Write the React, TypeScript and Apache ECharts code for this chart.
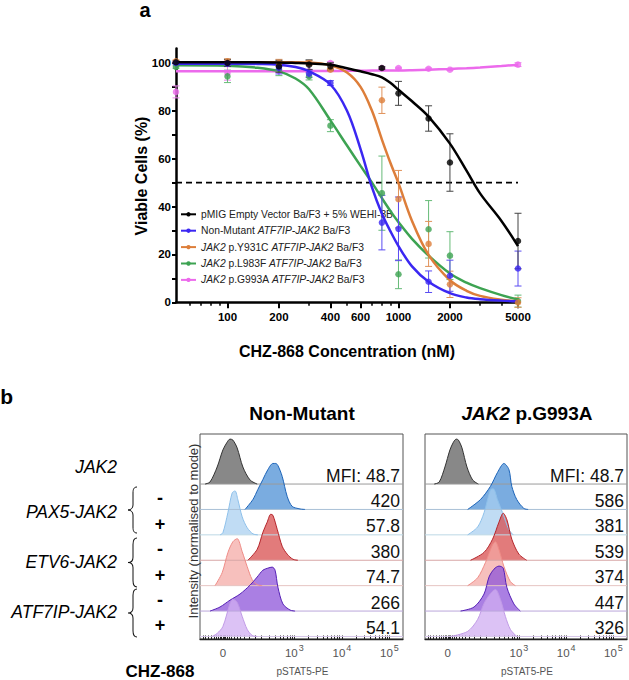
import React, { useEffect, useRef } from "react";
import * as echarts from "echarts";

const FONT = "'Liberation Sans', Arial, Helvetica, sans-serif";
const FLOW_FONT = "'Liberation Sans', Arial, sans-serif";

// ---------------- Panel a: dose response ----------------
const CONC_NM = [50, 100, 200, 300, 400, 800, 1000, 1500, 2000, 5000];
const EMPTY_MEAN = [100.3, 100, 98.6, 99.3, 98.6, 97.9, 87.3, 76.8, 58.4, 25.6];
const EMPTY_ERR = [0.5, 1.5, 2.5, 2, 1.5, 0.5, 5, 5.3, 12, 11.6];
const NONMUT_MEAN = [100, 99.7, 97.9, 95.5, 91.6, 33.3, 30.7, 8.6, 11.1, 14.1];
const NONMUT_ERR = [0.5, 1, 2.5, 1.5, 1, 11.4, 13.3, 4.5, 6.5, 7.3];
const Y931C_MEAN = [100.7, 100.7, 100, 100, 97.2, 84.4, 43.1, 24.4, 7.5, -0.1];
const Y931C_ERR = [0.5, 1, 1.5, 1, 0.5, 5.5, 12, 9.4, 5.5, 2];
const L983F_MEAN = [98.3, 94.4, 97.2, 94.4, 73.8, 45.6, 11.7, 30.5, 19.5, 0.5];
const L983F_ERR = [0.5, 2.6, 2.5, 1.5, 2.5, 15.5, 6, 12, 10, 2.5];
const G993A_MEAN = [87.9, 95.8, 96.6, 96.6, 100, 97.9, 97.9, 97.6, 97.2, 99.3];
const G993A_ERR = [2.5, 3, 0.5, 0.5, 0.5, 0.3, 0.3, 0.3, 0.3, 0.8];

const FIT_NM = [50, 100, 150, 200, 250, 300, 400, 500, 600, 700, 800, 900, 1000, 1200, 1500, 2000, 2500, 3000, 4000, 5000];
const EMPTY_FIT = [100.3, 100.3, 100.3, 100.2, 100, 99.8, 99.3, 97.8, 96.5, 95.3, 94, 91.6, 88.8, 84, 77.6, 66.3, 55, 45.5, 34, 23.5];
const NONMUT_FIT = [99.7, 99.7, 99.6, 99.3, 98.3, 96.5, 91, 80, 64, 48, 37, 29.5, 23.5, 15, 8.6, 3.8, 2, 1.3, 0.7, 0.4];
const Y931C_FIT = [100.3, 100.3, 100.3, 100.3, 100.3, 100.2, 99, 96, 90, 80, 68, 58, 49.8, 34, 19.8, 9.2, 4.8, 2.7, 1.1, 0.4];
const L983F_FIT = [99, 98.8, 98, 96.5, 93.5, 89, 76, 65.5, 57, 50, 43.5, 38, 33.5, 26.5, 19.5, 12, 8.2, 5.9, 3, 1.2];
const G993A_FIT = [96.5, 96.5, 96.5, 96.5, 96.5, 96.6, 96.6, 96.7, 96.7, 96.8, 96.8, 96.9, 96.9, 97, 97.2, 97.5, 97.8, 98.1, 98.7, 99.3];

const SERIES_NAMES = [
  "pMIG Empty Vector Ba/F3 + 5% WEHI-3B",
  "Non-Mutant ATF7IP-JAK2 Ba/F3",
  "JAK2 p.Y931C ATF7IP-JAK2 Ba/F3",
  "JAK2 p.L983F ATF7IP-JAK2 Ba/F3",
  "JAK2 p.G993A ATF7IP-JAK2 Ba/F3",
];
const LEGEND_RICH = [
  "pMIG Empty Vector Ba/F3 + 5% WEHI-3B",
  "Non-Mutant {i|ATF7IP-JAK2} Ba/F3",
  "{i|JAK2} p.Y931C {i|ATF7IP-JAK2} Ba/F3",
  "{i|JAK2} p.L983F {i|ATF7IP-JAK2} Ba/F3",
  "{i|JAK2} p.G993A {i|ATF7IP-JAK2} Ba/F3",
];
const MEANS = [EMPTY_MEAN, NONMUT_MEAN, Y931C_MEAN, L983F_MEAN, G993A_MEAN];
const ERRS = [EMPTY_ERR, NONMUT_ERR, Y931C_ERR, L983F_ERR, G993A_ERR];
const FITS = [EMPTY_FIT, NONMUT_FIT, Y931C_FIT, L983F_FIT, G993A_FIT];
const COLORS = ["#000000", "#3b27f2", "#dd7e3a", "#3da352", "#ec6aec"];
const ERR_COLORS = ["#444444", "#5a4cf2", "#e0925a", "#66bb78", "#ee88ee"];

const X_LABEL_NM = [100, 200, 400, 600, 1000, 2000, 5000];
const X_MINOR_NM = [60, 70, 80, 90, 300, 500, 700, 800, 900, 3000, 4000];
const Y_LABELS = [0, 20, 40, 60, 80, 100];
const Y_TICKS = [0, 10, 20, 30, 40, 50, 60, 70, 80, 90, 100];
const THRESHOLD = 50;

// ---------------- Panel b: flow histograms ----------------
const ROW_LABELS = ["JAK2", "PAX5-JAK2", "ETV6-JAK2", "ATF7IP-JAK2"];
const SIGNS = ["-", "+", "-", "+", "-", "+"];
const NONMUT_MFI = ["MFI: 48.7", "420", "57.8", "380", "74.7", "266", "54.1"];
const G993A_MFI = ["MFI: 48.7", "586", "381", "539", "374", "447", "326"];
const HIST_LABEL_U = [0, 1, 1.665, 2.33];
const HIST_LABEL_TEXT = ["0", "10{s|3}", "10{s|4}", "10{s|5}"];
const HIST_TICKS_U = [
  -0.28, -0.24, -0.2, -0.16, -0.12, -0.09, -0.06, -0.04, -0.02, 0, 0.02, 0.04, 0.06, 0.09, 0.12, 0.16, 0.2,
  0.24, 0.3, 0.37, 0.45, 0.54, 0.65, 0.73, 0.8, 0.85, 0.9, 0.94, 0.97, 1, 1.2, 1.317, 1.4, 1.465, 1.517,
  1.562, 1.6, 1.635, 1.665, 1.865, 1.982, 2.065, 2.13, 2.182, 2.227, 2.265, 2.3, 2.33,
];

// histogram shapes: [display channel, height in row units]
const NM_JAK2 = [[-0.25, 0], [-0.18, 0.08], [-0.08, 0.67], [0, 1.34], [0.06, 1.65], [0.1, 1.77], [0.14, 1.73], [0.2, 1.42], [0.28, 0.67], [0.38, 0.16], [0.48, 0]];
const NM_PAX5_MINUS = [[0.31, 0], [0.42, 0.39], [0.49, 0.79], [0.56, 1.18], [0.63, 1.57], [0.7, 1.81], [0.74, 1.81], [0.77, 1.73], [0.83, 1.3], [0.9, 0.51], [0.97, 0.12], [1.08, 0.02], [1.15, 0]];
const NM_PAX5_PLUS = [[-0.04, 0], [0, 0.08], [0.07, 0.87], [0.13, 1.65], [0.17, 1.73], [0.21, 1.38], [0.27, 0.71], [0.34, 0.28], [0.42, 0.04], [0.49, 0]];
const NM_ETV6_MINUS = [[0.35, 0], [0.48, 0.43], [0.56, 1.1], [0.62, 1.5], [0.67, 1.81], [0.7, 1.77], [0.76, 1.22], [0.83, 0.55], [0.9, 0.24], [0.98, 0.04], [1.05, 0]];
const NM_ETV6_PLUS = [[-0.11, 0], [-0.01, 0.51], [0.07, 1.3], [0.14, 1.73], [0.2, 1.85], [0.27, 1.34], [0.34, 0.75], [0.41, 0.24], [0.48, 0.04], [0.55, 0]];
const NM_ATF7IP_MINUS = [[-0.18, 0], [-0.04, 0.16], [0.1, 0.43], [0.24, 0.67], [0.38, 1.02], [0.48, 1.34], [0.56, 1.61], [0.63, 1.69], [0.69, 1.73], [0.73, 1.61], [0.77, 0.94], [0.84, 0.28], [0.94, 0.04], [1.01, 0]];
const NM_ATF7IP_PLUS = [[-0.15, 0], [-0.08, 0.12], [0, 0.39], [0.1, 1.3], [0.14, 1.46], [0.2, 1.34], [0.27, 0.79], [0.34, 0.28], [0.41, 0.04], [0.48, 0]];

const G_JAK2 = [[-0.19, 0], [-0.12, 0.08], [-0.04, 0.67], [0.03, 1.34], [0.08, 1.65], [0.12, 1.77], [0.15, 1.73], [0.2, 1.42], [0.27, 0.67], [0.35, 0.16], [0.43, 0]];
const G_PAX5_MINUS = [[0.28, 0], [0.46, 0.39], [0.6, 0.91], [0.7, 1.46], [0.79, 1.81], [0.86, 1.57], [0.9, 0.91], [0.97, 0.39], [1.07, 0.04], [1.13, 0]];
const G_PAX5_PLUS = [[0.28, 0], [0.42, 0.31], [0.51, 0.87], [0.6, 1.77], [0.64, 1.81], [0.7, 1.38], [0.77, 0.87], [0.86, 0.2], [0.92, 0]];
const G_ETV6_MINUS = [[0.32, 0], [0.51, 0.31], [0.63, 0.83], [0.72, 1.5], [0.78, 1.85], [0.83, 1.61], [0.9, 0.83], [1.0, 0.24], [1.11, 0]];
const G_ETV6_PLUS = [[0.28, 0], [0.42, 0.31], [0.53, 0.91], [0.63, 1.61], [0.67, 1.73], [0.72, 1.42], [0.79, 0.75], [0.88, 0.16], [0.95, 0]];
const G_ATF7IP_MINUS = [[0.18, 0], [0.37, 0.16], [0.51, 0.67], [0.58, 1.34], [0.65, 1.65], [0.72, 1.77], [0.78, 1.69], [0.83, 0.94], [0.93, 0.28], [1.02, 0]];
const G_ATF7IP_PLUS = [[0.04, 0], [0.28, 0.2], [0.42, 0.67], [0.51, 1.3], [0.6, 1.69], [0.67, 1.85], [0.74, 1.46], [0.81, 0.79], [0.88, 0.28], [0.97, 0]];

const NM_HISTS = [NM_JAK2, NM_PAX5_MINUS, NM_PAX5_PLUS, NM_ETV6_MINUS, NM_ETV6_PLUS, NM_ATF7IP_MINUS, NM_ATF7IP_PLUS];
const G_HISTS = [G_JAK2, G_PAX5_MINUS, G_PAX5_PLUS, G_ETV6_MINUS, G_ETV6_PLUS, G_ATF7IP_MINUS, G_ATF7IP_PLUS];

const ROW_FILL = [
  "rgba(115,115,115,0.85)", "rgba(70,140,212,0.72)", "rgba(168,206,240,0.72)", "rgba(215,72,72,0.72)",
  "rgba(244,168,163,0.72)", "rgba(142,84,218,0.75)", "rgba(208,174,242,0.75)",
];
const ROW_STROKE = ["#333333", "#1d64b8", "#8ec0ea", "#b3242a", "#ee8c87", "#5520b5", "#c09ae6"];
const ROW_BASE = ["#9a9a9a", "#a8c0d6", "#bcd8e6", "#d8a6a6", "#e6c4c2", "#bba6da", "#d6c6ea"];

// ---------------- layout constants ----------------
const TOP_GRID = { left: 176, top: 48.6, width: 343, height: 253.7 };
const LOG_MIN = Math.log10(50);
const LOG_MAX = LOG_MIN + 343 / 171;
const Y_MAX = 106;
const HIST_TOP = 434;
const HIST_H = 205;
const HIST_LEFTS = [200, 425];
const HIST_WIDTHS = [203, 202];
const U_MIN = -0.32;
const U_MAX = 2.52;
const ROWS_MAX = 8.07;
const ROW_PX = HIST_H / ROWS_MAX;
const rowBase = (i: number) => 6.1 - i;
const rowBaseY = (i: number) => HIST_TOP + HIST_H - rowBase(i) * ROW_PX;
const histPx = (p: number, u: number) => HIST_LEFTS[p] + ((u - U_MIN) / (U_MAX - U_MIN)) * HIST_WIDTHS[p];

const BRACE_D = "M9,0 C6,0 5,2 5,6 L5,18 C5,21 3,23 0,23 C3,23 5,25 5,28 L5,40 C5,44 6,46 9,46";
echarts.graphic.registerShape("brace", echarts.graphic.extendPath(BRACE_D, {}));

function errRender(color: string) {
  return (params: any, api: any) => {
    const x = api.value(0);
    const lo = api.coord([x, api.value(1)]);
    const hi = api.coord([x, api.value(2)]);
    const w = 3.5;
    const st = { stroke: color, lineWidth: 1 };
    return {
      type: "group",
      children: [
        { type: "line", shape: { x1: lo[0], y1: lo[1], x2: hi[0], y2: hi[1] }, style: st },
        { type: "line", shape: { x1: lo[0] - w, y1: lo[1], x2: lo[0] + w, y2: lo[1] }, style: st },
        { type: "line", shape: { x1: hi[0] - w, y1: hi[1], x2: hi[0] + w, y2: hi[1] }, style: st },
      ],
    };
  };
}

function txt(x: number, y: number, text: string, o: any = {}) {
  return {
    type: "text",
    x,
    y,
    rotation: o.rotation || 0,
    silent: true,
    style: {
      text,
      fill: o.fill || "#000",
      fontSize: o.fontSize || 12,
      fontWeight: o.fontWeight || "normal",
      fontStyle: o.fontStyle || "normal",
      fontFamily: o.fontFamily || FONT,
      align: o.align || "center",
      verticalAlign: o.verticalAlign || "middle",
      rich: o.rich,
    },
  };
}

function buildOption() {
  const series: any[] = [];
  series.push({
    type: "line",
    xAxisIndex: 0,
    yAxisIndex: 0,
    data: [[LOG_MIN, THRESHOLD], [Math.log10(5000), THRESHOLD]],
    symbol: "none",
    lineStyle: { color: "#000", width: 1.6, type: [6, 4] },
    silent: true,
    z: 1,
  });
  const drawOrder = [4, 3, 2, 1, 0];
  drawOrder.forEach((k, ord) => {
    series.push({
      type: "custom",
      name: SERIES_NAMES[k] + " err",
      xAxisIndex: 0,
      yAxisIndex: 0,
      renderItem: errRender(ERR_COLORS[k]),
      data: CONC_NM.map((c, i) => [Math.log10(c), MEANS[k][i] - ERRS[k][i], MEANS[k][i] + ERRS[k][i]]),
      clip: false,
      silent: true,
      z: 2 + ord,
    });
  });
  drawOrder.forEach((k, ord) => {
    series.push({
      type: "line",
      name: SERIES_NAMES[k],
      xAxisIndex: 0,
      yAxisIndex: 0,
      data: FIT_NM.map((c, i) => [Math.log10(c), FITS[k][i]]),
      smooth: 0.35,
      showSymbol: false,
      symbol: "circle",
      symbolSize: 5,
      clip: false,
      itemStyle: { color: COLORS[k] },
      lineStyle: { color: COLORS[k], width: 2.5 },
      silent: true,
      z: 3 + ord,
    });
  });
  drawOrder.forEach((k, ord) => {
    series.push({
      type: "scatter",
      name: SERIES_NAMES[k] + " pts",
      xAxisIndex: 0,
      yAxisIndex: 0,
      data: CONC_NM.map((c, i) => [Math.log10(c), MEANS[k][i]]),
      symbol: "circle",
      symbolSize: 6.5,
      itemStyle: { color: COLORS[k] },
      clip: false,
      silent: true,
      z: 4 + ord,
    });
  });

  [NM_HISTS, G_HISTS].forEach((hists, p) => {
    hists.forEach((h, i) => {
      const base = rowBase(i);
      series.push({
        type: "line",
        xAxisIndex: 2 + p,
        yAxisIndex: 1 + p,
        data: [[U_MIN, base], [U_MAX, base]],
        symbol: "none",
        lineStyle: { color: ROW_BASE[i], width: 1 },
        silent: true,
        z: 2,
      });
      series.push({
        type: "line",
        xAxisIndex: 2 + p,
        yAxisIndex: 1 + p,
        data: h.map(([u, v]) => [u, base + v]),
        smooth: 0.3,
        symbol: "none",
        lineStyle: { color: ROW_STROKE[i], width: 1 },
        areaStyle: { color: ROW_FILL[i], origin: base, opacity: 1 },
        silent: true,
        z: 2,
      });
    });
  });

  const histX = (p: number) => ({
    type: "value",
    gridIndex: 1 + p,
    position: "bottom",
    min: U_MIN,
    max: U_MAX,
    axisLine: { show: true, onZero: false, lineStyle: { color: "#222", width: 1.3 } },
    axisTick: { show: true, inside: true, customValues: HIST_TICKS_U, length: 3.5, lineStyle: { color: "#222", width: 1 } },
    axisLabel: { show: false },
    splitLine: { show: false },
  });

  const graphic: any[] = [];
  graphic.push(txt(145, 0, "a", { fontSize: 20, fontWeight: "bold", verticalAlign: "top" }));
  graphic.push(txt(141, 176, "Viable Cells (%)", { fontSize: 16, fontWeight: "bold", rotation: Math.PI / 2 }));
  graphic.push(txt(347, 351, "CHZ-868 Concentration (nM)", { fontSize: 16, fontWeight: "bold" }));
  graphic.push(txt(6.7, 396, "b", { fontSize: 21, fontWeight: "bold" }));
  graphic.push(txt(302, 413, "Non-Mutant", { fontSize: 19, fontWeight: "bold" }));
  graphic.push(
    txt(527, 413, "{bi|JAK2} p.G993A", {
      fontSize: 19,
      fontWeight: "bold",
      rich: { bi: { fontSize: 19, fontWeight: "bold", fontStyle: "italic", fontFamily: FONT } },
    })
  );
  const labelY = [rowBaseY(0) - 17, (rowBaseY(1) + rowBaseY(2)) / 2 - 10, (rowBaseY(3) + rowBaseY(4)) / 2 - 11, (rowBaseY(5) + rowBaseY(6)) / 2 - 12];
  ROW_LABELS.forEach((t, i) => graphic.push(txt(117, labelY[i], t, { fontSize: 17.5, fontStyle: "italic", align: "right" })));
  SIGNS.forEach((s, i) => graphic.push(txt(160, rowBaseY(i + 1) - 11, s, { fontSize: 18, fontWeight: "bold" })));
  const braceTops = [487, 538, 589];
  const braceH = [46, 49, 48];
  braceTops.forEach((y, i) =>
    graphic.push({
      type: "brace",
      x: 128,
      y,
      scaleX: 1,
      scaleY: braceH[i] / 46,
      silent: true,
      style: { stroke: "#111", fill: "none", lineWidth: 1 },
    })
  );
  graphic.push(txt(160, 671, "CHZ-868", { fontSize: 17, fontWeight: "bold" }));
  graphic.push(txt(193, 531, "Intensity (normalised to mode)", { fontSize: 13, fill: "#333", rotation: Math.PI / 2 }));
  [NONMUT_MFI, G993A_MFI].forEach((arr, p) => {
    const right = HIST_LEFTS[p] + HIST_WIDTHS[p] - 3;
    arr.forEach((t, i) => graphic.push(txt(right, rowBaseY(i) - 8.5, t, { fontSize: 17.5, align: "right", fill: "#111" })));
    graphic.push(txt(HIST_LEFTS[p] + HIST_WIDTHS[p] / 2 + 1, 671, "pSTAT5-PE", { fontSize: 10, fill: "#555", fontFamily: FLOW_FONT }));
    HIST_LABEL_U.forEach((u, j) =>
      graphic.push(
        txt(histPx(p, u), 653, HIST_LABEL_TEXT[j], {
          fontSize: 11.5,
          fill: "#555",
          fontFamily: FLOW_FONT,
          rich: { s: { fontSize: 9, fill: "#555", fontFamily: FLOW_FONT, padding: [0, 0, 11, 1] } },
        })
      )
    );
  });

  return {
    animation: false,
    backgroundColor: "#ffffff",
    textStyle: { fontFamily: FONT },
    grid: [
      { ...TOP_GRID, outerBoundsMode: "none", containLabel: false },
      { left: HIST_LEFTS[0], top: HIST_TOP, width: HIST_WIDTHS[0], height: HIST_H, show: true, borderColor: "#555", borderWidth: 1, backgroundColor: "transparent", outerBoundsMode: "none", containLabel: false },
      { left: HIST_LEFTS[1], top: HIST_TOP, width: HIST_WIDTHS[1], height: HIST_H, show: true, borderColor: "#555", borderWidth: 1, backgroundColor: "transparent", outerBoundsMode: "none", containLabel: false },
    ],
    legend: {
      data: SERIES_NAMES,
      orient: "vertical",
      left: 180,
      top: 208.3,
      padding: 0,
      itemWidth: 15,
      itemHeight: 5.5,
      itemGap: 4.4,
      selectedMode: false,
      formatter: (name: string) => LEGEND_RICH[SERIES_NAMES.indexOf(name)],
      textStyle: {
        fontSize: 10.3,
        fontFamily: FONT,
        color: "#222",
        lineHeight: 12,
        rich: { i: { fontStyle: "italic", fontSize: 10.3, fontFamily: FONT, color: "#222", lineHeight: 12 } },
      },
    },
    xAxis: [
      {
        type: "value",
        gridIndex: 0,
        position: "bottom",
        min: LOG_MIN,
        max: LOG_MAX,
        axisLine: { show: true, onZero: false, lineStyle: { color: "#000", width: 2.5 } },
        axisTick: { show: true, customValues: X_LABEL_NM.map((v) => Math.log10(v)), length: 6, lineStyle: { color: "#000", width: 2 } },
        axisLabel: {
          show: true,
          customValues: X_LABEL_NM.map((v) => Math.log10(v)),
          formatter: (v: number) => String(Math.round(Math.pow(10, v))),
          color: "#000",
          fontWeight: "bold",
          fontSize: 11.5,
          fontFamily: FONT,
          margin: 9,
        },
        splitLine: { show: false },
      },
      {
        type: "value",
        gridIndex: 0,
        position: "bottom",
        min: LOG_MIN,
        max: LOG_MAX,
        axisLine: { show: false },
        axisTick: { show: true, customValues: X_MINOR_NM.map((v) => Math.log10(v)), length: 3.5, lineStyle: { color: "#000", width: 1.5 } },
        axisLabel: { show: false },
        splitLine: { show: false },
      },
      histX(0),
      histX(1),
    ],
    yAxis: [
      {
        type: "value",
        gridIndex: 0,
        min: 0,
        max: Y_MAX,
        axisLine: { show: true, onZero: false, lineStyle: { color: "#000", width: 2.5 } },
        axisTick: { show: true, customValues: Y_TICKS, length: 4, lineStyle: { color: "#000", width: 2 } },
        axisLabel: {
          show: true,
          customValues: Y_LABELS,
          color: "#000",
          fontWeight: "bold",
          fontSize: 11.5,
          fontFamily: FONT,
          margin: 5,
        },
        splitLine: { show: false },
      },
      { type: "value", gridIndex: 1, min: 0, max: ROWS_MAX, show: false, splitLine: { show: false } },
      { type: "value", gridIndex: 2, min: 0, max: ROWS_MAX, show: false, splitLine: { show: false } },
    ],
    series,
    graphic,
  };
}

export default function App() {
  const ref = useRef<HTMLDivElement>(null);
  useEffect(() => {
    if (!ref.current) return;
    const chart = echarts.init(ref.current, null, { renderer: "svg" });
    chart.setOption(buildOption() as any);
    return () => chart.dispose();
  }, []);
  return (
    <div
      ref={ref}
      style={{ position: "absolute", left: 0, top: 0, width: 629, height: 680, background: "#fff" }}
    />
  );
}
